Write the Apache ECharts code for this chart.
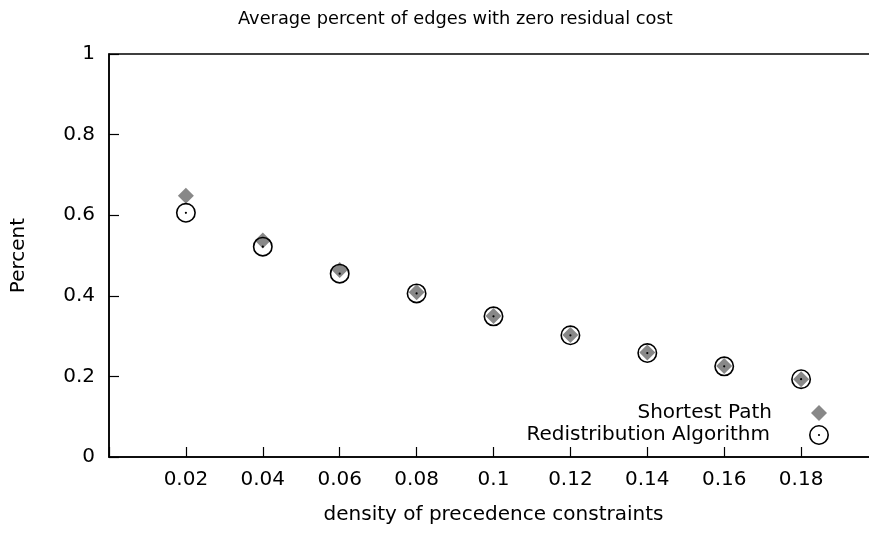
<!DOCTYPE html>
<html>
<head>
<meta charset="utf-8">
<script src="https://cdn.jsdelivr.net/npm/echarts@6/dist/echarts.min.js"></script>
<style>
html, body { margin: 0; padding: 0; background: #fff; }
#chart { width: 869px; height: 534px; }
</style>
</head>
<body>
<div id="chart"></div>
<script>
const titleText = 'Average percent of edges with zero residual cost';
const xAxisName = 'density of precedence constraints';
const yAxisName = 'Percent';
const densities = [0.02, 0.04, 0.06, 0.08, 0.10, 0.12, 0.14, 0.16, 0.18];
const shortestPath = [0.648, 0.537, 0.464, 0.409, 0.350, 0.303, 0.259, 0.226, 0.193];
const redistribution = [0.606, 0.522, 0.455, 0.406, 0.349, 0.302, 0.258, 0.225, 0.193];
const seriesNames = ['Shortest Path', 'Redistribution Algorithm'];

const FONT = 'DejaVu Sans';
const ringPath = 'path://M0 10A10 10 0 1 0 20 10A10 10 0 1 0 0 10Z' +
  'M1.6 10A8.4 8.4 0 1 1 18.4 10A8.4 8.4 0 1 1 1.6 10Z' +
  'M8.9 10A1.1 1.1 0 1 0 11.1 10A1.1 1.1 0 1 0 8.9 10Z';

const chart = echarts.init(document.getElementById('chart'), null, { renderer: 'canvas' });
const legendText = { fontFamily: FONT, fontSize: 20, color: '#000', padding: [0, 34, 0, 0] };
chart.setOption({
  animation: false,
  backgroundColor: '#fff',
  title: {
    text: titleText,
    left: 233, top: 5,
    textStyle: { fontFamily: FONT, fontSize: 17.8, fontWeight: 'normal', color: '#000' }
  },
  grid: {
    left: 109, right: -9, top: 54, bottom: 77,
    outerBoundsMode: 'none', containLabel: false,
    show: true, borderColor: '#000', borderWidth: 1.5, backgroundColor: 'transparent'
  },
  legend: [
    {
      data: [{ name: seriesNames[0], icon: 'diamond' }],
      orient: 'vertical', align: 'right', right: 42, top: 403, padding: 0,
      itemWidth: 16, itemHeight: 16,
      textStyle: legendText
    },
    {
      data: [{ name: seriesNames[1], icon: ringPath }],
      orient: 'vertical', align: 'right', right: 40, top: 425, padding: 0,
      itemWidth: 20, itemHeight: 20,
      textStyle: legendText
    }
  ],
  xAxis: {
    type: 'value', min: 0, max: 0.2, interval: 0.02,
    name: xAxisName, nameLocation: 'middle', nameGap: 48,
    nameTextStyle: { fontFamily: FONT, fontSize: 20, color: '#000' },
    axisLine: { onZero: false, lineStyle: { color: '#000', width: 1.5 } },
    axisTick: { inside: true, length: 10, lineStyle: { color: '#000', width: 1.2 } },
    axisLabel: {
      fontFamily: FONT, fontSize: 20, color: '#000', margin: 13,
      formatter: v => (v < 0.01 || v > 0.19) ? '' : String(Number(v.toFixed(2)))
    },
    splitLine: { show: false }
  },
  yAxis: {
    type: 'value', min: 0, max: 1, interval: 0.2,
    name: yAxisName, nameLocation: 'middle', nameGap: 80,
    nameTextStyle: { fontFamily: FONT, fontSize: 20, color: '#000' },
    axisLine: { show: true, lineStyle: { color: '#000', width: 1.5 } },
    axisTick: { show: true, inside: true, length: 10, lineStyle: { color: '#000', width: 1.2 } },
    axisLabel: {
      fontFamily: FONT, fontSize: 20, color: '#000', margin: 14,
      formatter: v => String(Number(v.toFixed(1)))
    },
    splitLine: { show: false }
  },
  series: [
    {
      name: seriesNames[0], type: 'scatter', symbol: 'diamond', symbolSize: 16,
      itemStyle: { color: '#888888', opacity: 1 },
      data: densities.map((d, i) => [d, shortestPath[i]])
    },
    {
      name: seriesNames[1], type: 'scatter', symbol: ringPath, symbolSize: 20,
      itemStyle: { color: '#000', opacity: 1 },
      data: densities.map((d, i) => [d, redistribution[i]])
    }
  ]
});
</script>
</body>
</html>
